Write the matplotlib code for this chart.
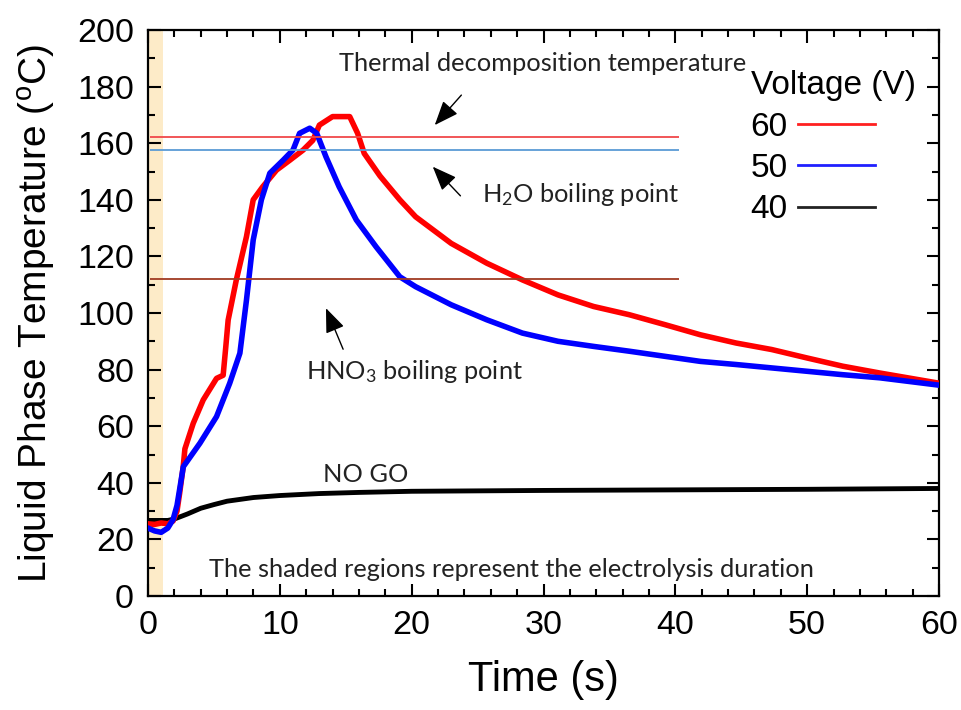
import matplotlib.pyplot as plt
from matplotlib.lines import Line2D
from matplotlib.ticker import MultipleLocator

plt.rcParams['font.family'] = ['Liberation Sans', 'DejaVu Sans']
plt.rcParams['mathtext.default'] = 'regular'

# temperature traces (time in s, temperature in C)
time_60 = [0, 0.5, 1.0, 1.5, 1.9, 2.2, 2.4, 2.67, 2.8, 3.43, 4.19, 5.2, 5.7, 5.9, 6.08, 6.7,
           7.47, 7.98, 8.7, 9.75, 10.76, 11.77, 12.5, 13.0, 14.0, 15.3, 15.9, 16.4, 17.6,
           19.1, 20.3, 23.0, 25.7, 28.4, 31.1, 33.8, 36.5, 39.2, 41.9, 44.6, 47.3, 50.0,
           52.7, 55.5, 60.0]
temp_60 = [25.5, 25.3, 25.8, 25.5, 26.5, 30, 36.3, 45.7, 52, 61, 69.3, 76.9, 78, 88, 97.5, 111.7,
           127, 140, 144.6, 150.5, 154, 157.6, 161, 166.4, 169.4, 169.4, 163.5, 156.4, 148.4,
           140, 134, 124.6, 117.6, 111.7, 106.4, 102.3, 99.4, 95.9, 92.3, 89.4, 87.1, 84.1,
           81.2, 78.8, 75.2]

time_50 = [0, 0.5, 1.0, 1.5, 1.9, 2.2, 2.68, 3.94, 5.2, 6.2, 6.97, 7.47, 7.98, 8.6, 9.24,
           10.25, 11.0, 11.5, 12.27, 12.8, 13.5, 14.5, 15.8, 17.3, 19.1, 20.3, 23.0, 25.7,
           28.4, 31.1, 33.8, 36.5, 39.2, 41.9, 44.6, 47.3, 50.0, 52.7, 55.5, 60.0]
temp_50 = [24, 23, 22.5, 24, 27, 32, 45.7, 54, 63.4, 75.2, 85.8, 104.6, 125.8, 140, 149.4,
           154, 157.6, 163.5, 165.3, 163.5, 155.2, 144.6, 132.9, 123.4, 112.8, 109.3, 102.9,
           97.6, 92.9, 90.0, 88.2, 86.5, 84.7, 82.9, 81.8, 80.6, 79.4, 78.2, 77.1, 74.5]

time_40 = [0, 1.5, 2.0, 3.0, 4.0, 5.0, 6.0, 8.0, 10.0, 13.0, 16.0, 20.0, 30.0, 40.0, 50.0, 60.0]
temp_40 = [26.7, 26.7, 27.2, 29, 31, 32.3, 33.5, 34.8, 35.5, 36.2, 36.6, 37, 37.3, 37.5, 37.7, 38]

voltages = ['60', '50', '40']

# reference temperatures: thermal decomposition, H2O boiling, HNO3 boiling
ref_temps = [162.2, 157.6, 112.0]
ref_start, ref_end = 0.15, 40.3
electrolysis_end = 1.1

fig = plt.figure(figsize=(9.62, 7.10), dpi=100)
ax = fig.add_axes([148 / 962, 114 / 710, 791 / 962, 566 / 710])

ax.axvspan(0, electrolysis_end, color='#fdebc8', lw=0, zorder=0)

ax.plot(time_40, temp_40, color='black', lw=3.5, zorder=3)
ax.plot(time_50, temp_50, color='#0000ff', lw=4, zorder=4)
ax.plot(time_60, temp_60, color='#ff0000', lw=4, zorder=3)

ref_colors = ['#f0484a', '#5b9bd5', '#a03a22']
for t, c in zip(ref_temps, ref_colors):
    ax.hlines(t, ref_start, ref_end, color=c, lw=1.3, zorder=5)

ax.set_xlim(0, 60)
ax.set_ylim(0, 200)
ax.xaxis.set_major_locator(MultipleLocator(10))
ax.xaxis.set_minor_locator(MultipleLocator(2))
ax.yaxis.set_major_locator(MultipleLocator(20))
ax.yaxis.set_minor_locator(MultipleLocator(10))
ax.tick_params(which='both', direction='in', top=True, right=True, width=1.5)
ax.tick_params(which='major', length=9, labelsize=24.5, pad=10)
ax.tick_params(which='minor', length=5)
for sp in ax.spines.values():
    sp.set_linewidth(1.6)

ax.set_xlabel('Time (s)', fontsize=30, labelpad=14)
ax.set_ylabel('Liquid Phase Temperature ($^{o}$C)', fontsize=28, labelpad=14)

note_font = dict(family=['Lato', 'DejaVu Sans'], fontsize=18.3, color='#222222')
ax.text(29.9, 188, 'Thermal decomposition temperature', ha='center', va='center', **note_font)
ax.text(25.3, 141.7, 'H$_2$O boiling point', ha='left', va='center', **note_font)
ax.text(12.0, 79.3, 'HNO$_3$ boiling point', ha='left', va='center', **note_font)
ax.text(16.5, 43.1, 'NO GO', ha='center', va='center', **note_font)
ax.text(27.6, 9.4, 'The shaded regions represent the electrolysis duration',
        ha='center', va='center', **note_font)

arrow_style = dict(arrowstyle='-|>,head_length=0.75,head_width=0.3', color='black',
                   lw=1, mutation_scale=20, shrinkA=0, shrinkB=0)
ax.annotate('', xy=(21.75, 166.4), xytext=(23.77, 177.0), arrowprops=arrow_style)
ax.annotate('', xy=(21.6, 151.7), xytext=(23.7, 141.4), arrowprops=arrow_style)
ax.annotate('', xy=(13.5, 101.7), xytext=(14.8, 87.2), arrowprops=arrow_style)

handles = [Line2D([], [], color=c, lw=2) for c in ['#ff2020', '#2020ff', '#222222']]
leg = ax.legend(handles, voltages, title='Voltage (V)', loc='upper left',
                bbox_to_anchor=(0.762, 0.929), frameon=False, fontsize=24,
                title_fontsize=24, markerfirst=False, handlelength=2.3,
                handletextpad=0.3, labelspacing=0.31, borderpad=0, borderaxespad=0,
                alignment='left')

fig.savefig('out.png', dpi=100)
